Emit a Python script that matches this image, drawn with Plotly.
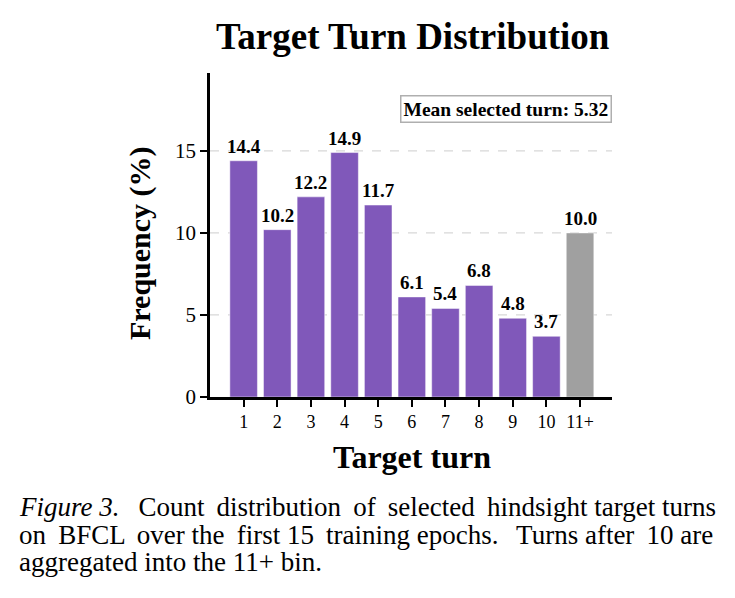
import plotly.graph_objects as go

categories = ["1", "2", "3", "4", "5", "6", "7", "8", "9", "10", "11+"]
values = [14.4, 10.2, 12.2, 14.9, 11.7, 6.1, 5.4, 6.8, 4.8, 3.7, 10.0]
mean_turn = 5.32

purple = "rgb(128,88,186)"
gray = "rgb(160,160,160)"
colors = [purple] * 10 + [gray]
xpos = list(range(len(categories)))

FONT = "Liberation Serif"
L, R, T, B = 210, 123, 73, 201
PW, PH = 735 - L - R, 598 - T - B


def px_x(px):
    return (px - L) / PW


def px_y(py):
    return 1 - (py - T) / PH


fig = go.Figure()
fig.add_trace(go.Bar(
    x=xpos, y=values, width=0.82,
    marker=dict(color=colors, line=dict(width=0.8, color="rgba(255,255,255,0.6)")),
    hoverinfo="skip",
))

for xv, v in zip(xpos, values):
    fig.add_annotation(
        x=xv, y=v, xref="x", yref="y", text=f"<b>{v:.1f}</b>", showarrow=False,
        xanchor="center", yanchor="bottom", yshift=2,
        font=dict(family=FONT, size=19, color="black"),
    )

fig.update_layout(
    width=735, height=598,
    margin=dict(l=L, r=R, t=T, b=B),
    paper_bgcolor="white", plot_bgcolor="white",
    showlegend=False,
    font=dict(family=FONT, color="black"),
)
fig.update_xaxes(
    range=[-1.0, 10.95], tickmode="array", tickvals=xpos, ticktext=categories,
    showline=True, linecolor="black", linewidth=2.5, ticks="outside", ticklen=7,
    tickwidth=2, tickcolor="black", tickfont=dict(family=FONT, size=18, color="black"),
    showgrid=False, zeroline=False, mirror=False,
)
fig.update_yaxes(
    range=[0, 19.75], tickvals=[0, 5, 10, 15],
    showline=True, linecolor="black", linewidth=2.5, ticks="outside", ticklen=7,
    tickwidth=2, tickcolor="black", tickfont=dict(family=FONT, size=21, color="black"),
    showgrid=False, zeroline=False,
)
for g in [5, 10, 15]:
    fig.add_shape(type="line", xref="paper", x0=0, x1=1, yref="y", y0=g, y1=g,
                  line=dict(color="rgb(215,215,215)", width=1.2, dash="dash"), layer="below")

# title and axis titles
fig.add_annotation(xref="paper", yref="paper", x=px_x(413), y=px_y(37), xanchor="center",
                   yanchor="middle", showarrow=False, text="<b>Target Turn Distribution</b>",
                   font=dict(family=FONT, size=37, color="black"))
fig.add_annotation(xref="paper", yref="paper", x=px_x(412), y=px_y(457), xanchor="center",
                   yanchor="middle", showarrow=False, text="<b>Target turn</b>",
                   font=dict(family=FONT, size=32, color="black"))
fig.add_annotation(xref="paper", yref="paper", x=px_x(140), y=px_y(243), xanchor="center",
                   yanchor="middle", showarrow=False, text="<b>Frequency (%)</b>", textangle=-90,
                   font=dict(family=FONT, size=30, color="black"))

fig.add_annotation(
    xref="paper", yref="paper", x=px_x(612), y=px_y(109), xanchor="right", yanchor="middle",
    text=f"<b>Mean selected turn: {mean_turn:.2f}</b>", showarrow=False,
    font=dict(family=FONT, size=19.5, color="black"),
    bordercolor="rgb(175,175,175)", borderwidth=1.5, borderpad=2, bgcolor="white",
)

TS = "\u2009"  # thin space for justification
caption = [
    "<i>Figure 3.</i> " + TS + " Count " + TS + "distribution " + TS + "of " + TS + "selected "
    + TS + "hindsight target turns",
    "on " + TS + "BFCL " + TS + "over the " + TS + "first 15 " + TS + "training epochs. "
    + TS + TS + "Turns after " + TS + "10 are",
    "aggregated into the 11+ bin.",
]
for i, line in enumerate(caption):
    fig.add_annotation(
        xref="paper", yref="paper", x=px_x(17), y=px_y(507 + i * 27.5),
        xanchor="left", yanchor="middle", text=line, showarrow=False,
        font=dict(family=FONT, size=27, color="black"),
    )

fig.write_html("out.html")
